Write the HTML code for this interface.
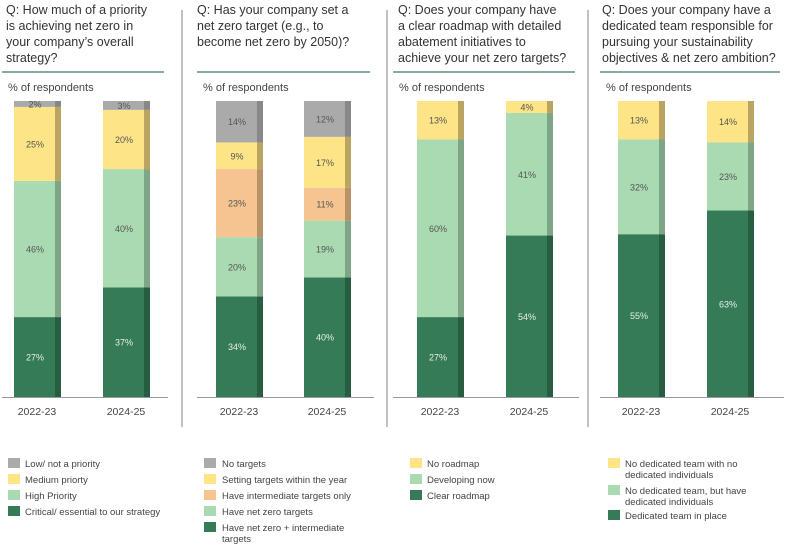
<!DOCTYPE html>
<html><head><meta charset="utf-8"><style>
body{margin:0;background:#fff;width:786px;height:547px;overflow:hidden;font-family:"Liberation Sans",sans-serif;}
svg text{font-family:"Liberation Sans",sans-serif;}
</style></head><body>
<svg id="c" width="786" height="547" xmlns="http://www.w3.org/2000/svg"></svg>
<script>
const years = ["2022-23","2024-25"];
const p1Cats = ["Critical/ essential to our strategy","High Priority","Medium priorty","Low/ not a priority"];
const p1Vals2022 = [27,46,25,2];
const p1Vals2024 = [37,40,20,3];
const p2Cats = ["Have net zero + intermediate targets","Have net zero targets","Have intermediate targets only","Setting targets within the year","No targets"];
const p2Vals2022 = [34,20,23,9,14];
const p2Vals2024 = [40,19,11,17,12];
const p3Cats = ["Clear roadmap","Developing now","No roadmap"];
const p3Vals2022 = [27,60,13];
const p3Vals2024 = [54,41,4];
const p4Cats = ["Dedicated team in place","No dedicated team, but have dedicated individuals","No dedicated team with no dedicated individuals"];
const p4Vals2022 = [55,32,13];
const p4Vals2024 = [63,23,14];

const C={dg:["#357b57","#275e42"],lg:["#a9dab1","#7fa587"],ye:["#fde487","#b9a561"],or:["#f5c491","#b99168"],gr:["#aaaaaa","#888888"]};
const svg=document.getElementById('c');
const NS="http://www.w3.org/2000/svg";
function el(t,a,txt){const e=document.createElementNS(NS,t);for(const k in a)e.setAttribute(k,a[k]);if(txt!==undefined)e.textContent=txt;svg.appendChild(e);return e;}
const top0=101,base=397;
function y(v){return base-(v/100)*(base-top0);}

const panels=[
 {x:0,title:["Q: How much of a priority","is achieving net zero in","your company’s overall","strategy?"],cats:p1Cats,vals:[p1Vals2022,p1Vals2024],cols:["dg","lg","ye","gr"],bx:[14,103],rule:[2,164],leg:{sx:8,tx:25,rows:[[466],[482],[498],[514]],order:[3,2,1,0]}},
 {x:197,title:["Q: Has your company set a","net zero target (e.g., to","become net zero by 2050)?"],cats:p2Cats,vals:[p2Vals2022,p2Vals2024],cols:["dg","lg","or","ye","gr"],bx:[216,304],rule:[197,370],leg:{sx:204,tx:222,rows:[[466],[482],[498],[514],[530,541]],order:[4,3,2,1,0]}},
 {x:397,title:["Q: Does your company have","a clear roadmap with detailed","abatement initiatives to","achieve your net zero targets?"],cats:p3Cats,vals:[p3Vals2022,p3Vals2024],cols:["dg","lg","ye"],bx:[417,506],rule:[393,575],leg:{sx:410,tx:427,rows:[[466],[482],[498]],order:[2,1,0]}},
 {x:602,title:["Q: Does your company have a","dedicated team responsible for","pursuing your sustainability","objectives & net zero ambition?"],cats:p4Cats,vals:[p4Vals2022,p4Vals2024],cols:["dg","lg","ye"],bx:[618,707],rule:[600,780],leg:{sx:608,tx:625,rows:[[466,477],[493,504],[518]],order:[2,1,0]}}
];
const splitAt={"Have net zero + intermediate targets":5,"No dedicated team, but have dedicated individuals":5,"No dedicated team with no dedicated individuals":5};
[182,387,588].forEach((dx,i)=>{const l=el('line',{x1:dx,y1:10,x2:dx,y2:427,stroke:'#999','stroke-width':1.2});

});

panels.forEach((p,pi)=>{
 p.title.forEach((t,i)=>{const e=el('text',{x:p.x+(pi===0?6:0)+(pi===2?1:0),y:14+i*16,'font-size':12.5,fill:'#333'},t);
 
 });
 const r=el('line',{x1:p.rule[0],y1:72,x2:p.rule[1],y2:72,stroke:'#3d7a63','stroke-width':1.2});
 
 
 const lab=el('text',{x:p.rule[0]+6,y:91,'font-size':11,fill:'#444'},'% of respondents');
 
 
 p.vals.forEach((vals,bi)=>{
  const tot=vals.reduce((a,b)=>a+b,0);let cum=0;const bx=p.bx[bi];
  vals.forEach((v,si)=>{
   const y1=y((cum+v)/tot*100),y0=y(cum/tot*100);cum+=v;
   const col=C[p.cols[si]];
   const rc=el('rect',{x:bx,y:y1,width:41,height:y0-y1,fill:col[0]});
   
   
   const sh=el('rect',{x:bx+41,y:y1,width:6,height:y0-y1,fill:col[1]});
   
   
   const tv=el('text',{x:bx+21,y:(y0+y1)/2+3.5,'font-size':9,'text-anchor':'middle',fill:p.cols[si]==='dg'?'#e6efe9':'#555'},v+'%');
   
   
  });
  const yl=el('text',{x:bx+23,y:415,'font-size':10.5,'text-anchor':'middle',fill:'#444'},years[bi]);
  
  
 });
 const ax=el('line',{x1:p.rule[0],y1:397.5,x2:p.rule[1]+4,y2:397.5,stroke:'#999','stroke-width':1});
 
 
 p.leg.order.forEach((ci,ri)=>{
  const rows=p.leg.rows[ri];
  const sw=el('rect',{x:p.leg.sx,y:rows[0]-8,width:12,height:10,fill:C[p.cols[ci]][0]});
  
  
  const words=p.cats[ci];
  let lines=[words];
  if(rows.length>1){const w=words.split(' ');const n=splitAt[words]||4;
   lines=[w.slice(0,n).join(' '),w.slice(n).join(' ')];}
  lines.forEach((t,li)=>{const lt=el('text',{x:p.leg.tx,y:rows[li]+1,'font-size':9.5,fill:'#444'},t);
   
   });
 });
});
</script>
</body></html>
